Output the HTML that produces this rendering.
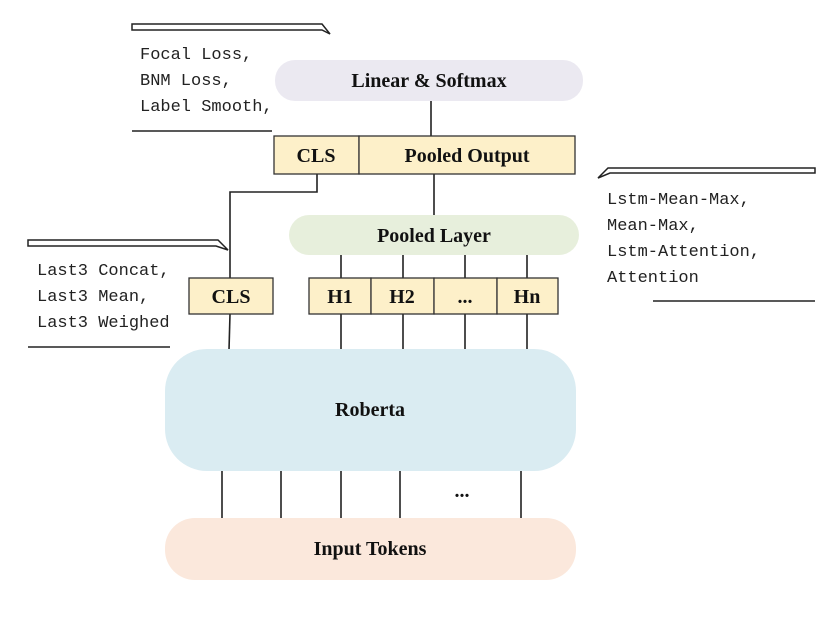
<!DOCTYPE html>
<html><head><meta charset="utf-8"><style>
html,body{margin:0;padding:0;background:#fff;}
svg{display:block;}
.b{font-family:"Liberation Serif",serif;font-weight:bold;font-size:20px;fill:#111;}
.m{font-family:"Liberation Mono","DejaVu Sans Mono",monospace;font-size:17px;fill:#222;}
</style></head><body>
<svg width="828" height="627" viewBox="0 0 828 627" xmlns="http://www.w3.org/2000/svg">
<rect width="828" height="627" fill="#fff"/>
<!-- lines -->
<g stroke="#222" stroke-width="1.6" fill="none">
<line x1="431" y1="100" x2="431" y2="136"/>
<line x1="434" y1="174" x2="434" y2="215"/>
<polyline points="317,174 317,192 230,192 230,278"/>
<line x1="230" y1="314" x2="229" y2="350"/>
<line x1="341" y1="255" x2="341" y2="278"/><line x1="403" y1="255" x2="403" y2="278"/>
<line x1="465" y1="255" x2="465" y2="278"/><line x1="527" y1="255" x2="527" y2="278"/>
<line x1="341" y1="314" x2="341" y2="350"/><line x1="403" y1="314" x2="403" y2="350"/>
<line x1="465" y1="314" x2="465" y2="350"/><line x1="527" y1="314" x2="527" y2="350"/>
<line x1="222" y1="470" x2="222" y2="518"/><line x1="281" y1="470" x2="281" y2="518"/>
<line x1="341" y1="470" x2="341" y2="518"/><line x1="400" y1="470" x2="400" y2="518"/>
<line x1="521" y1="470" x2="521" y2="518"/>
</g>
<!-- pills -->
<rect x="275" y="60" width="308" height="41" rx="20" fill="#ebe9f1"/>
<text class="b" x="429" y="87" text-anchor="middle">Linear &amp; Softmax</text>
<rect x="289" y="215" width="290" height="40" rx="20" fill="#e7efdc"/>
<text class="b" x="434" y="242" text-anchor="middle">Pooled Layer</text>
<rect x="165" y="349" width="411" height="122" rx="42" fill="#daecf2"/>
<text class="b" x="370" y="416" text-anchor="middle">Roberta</text>
<rect x="165" y="518" width="411" height="62" rx="30" fill="#fbe8dc"/>
<text class="b" x="370" y="555" text-anchor="middle">Input Tokens</text>
<text class="b" x="462" y="497" text-anchor="middle">...</text>
<!-- boxes -->
<g fill="#fdf0c9" stroke="#333" stroke-width="1.3">
<rect x="274" y="136" width="85" height="38"/><rect x="359" y="136" width="216" height="38"/>
<rect x="189" y="278" width="84" height="36"/>
<rect x="309" y="278" width="62" height="36"/><rect x="371" y="278" width="63" height="36"/>
<rect x="434" y="278" width="63" height="36"/><rect x="497" y="278" width="61" height="36"/>
</g>
<text class="b" x="316" y="162" text-anchor="middle">CLS</text>
<text class="b" x="467" y="162" text-anchor="middle">Pooled Output</text>
<text class="b" x="231" y="303" text-anchor="middle">CLS</text>
<text class="b" x="340" y="303" text-anchor="middle">H1</text>
<text class="b" x="402" y="303" text-anchor="middle">H2</text>
<text class="b" x="465" y="303" text-anchor="middle">...</text>
<text class="b" x="527" y="303" text-anchor="middle">Hn</text>
<!-- brackets -->
<g fill="none" stroke="#222" stroke-width="1.5">
<path d="M132,24 L322,24 L330,34 L322,30 L132,30 Z"/>
<line x1="132" y1="131" x2="272" y2="131"/>
<path d="M28,240 L218,240 L228,250 L216,246 L28,246 Z"/>
<line x1="28" y1="347" x2="170" y2="347"/>
<path d="M815,168 L608,168 L598,178 L610,173 L815,173 Z"/>
<line x1="653" y1="301" x2="815" y2="301"/>
</g>
<text class="m" x="140" y="59">Focal Loss,</text>
<text class="m" x="140" y="85">BNM Loss,</text>
<text class="m" x="140" y="111">Label Smooth,</text>
<text class="m" x="37" y="275">Last3 Concat,</text>
<text class="m" x="37" y="301">Last3 Mean,</text>
<text class="m" x="37" y="327">Last3 Weighed</text>
<text class="m" x="607" y="204">Lstm-Mean-Max,</text>
<text class="m" x="607" y="230">Mean-Max,</text>
<text class="m" x="607" y="256">Lstm-Attention,</text>
<text class="m" x="607" y="282">Attention</text>
</svg>
</body></html>
